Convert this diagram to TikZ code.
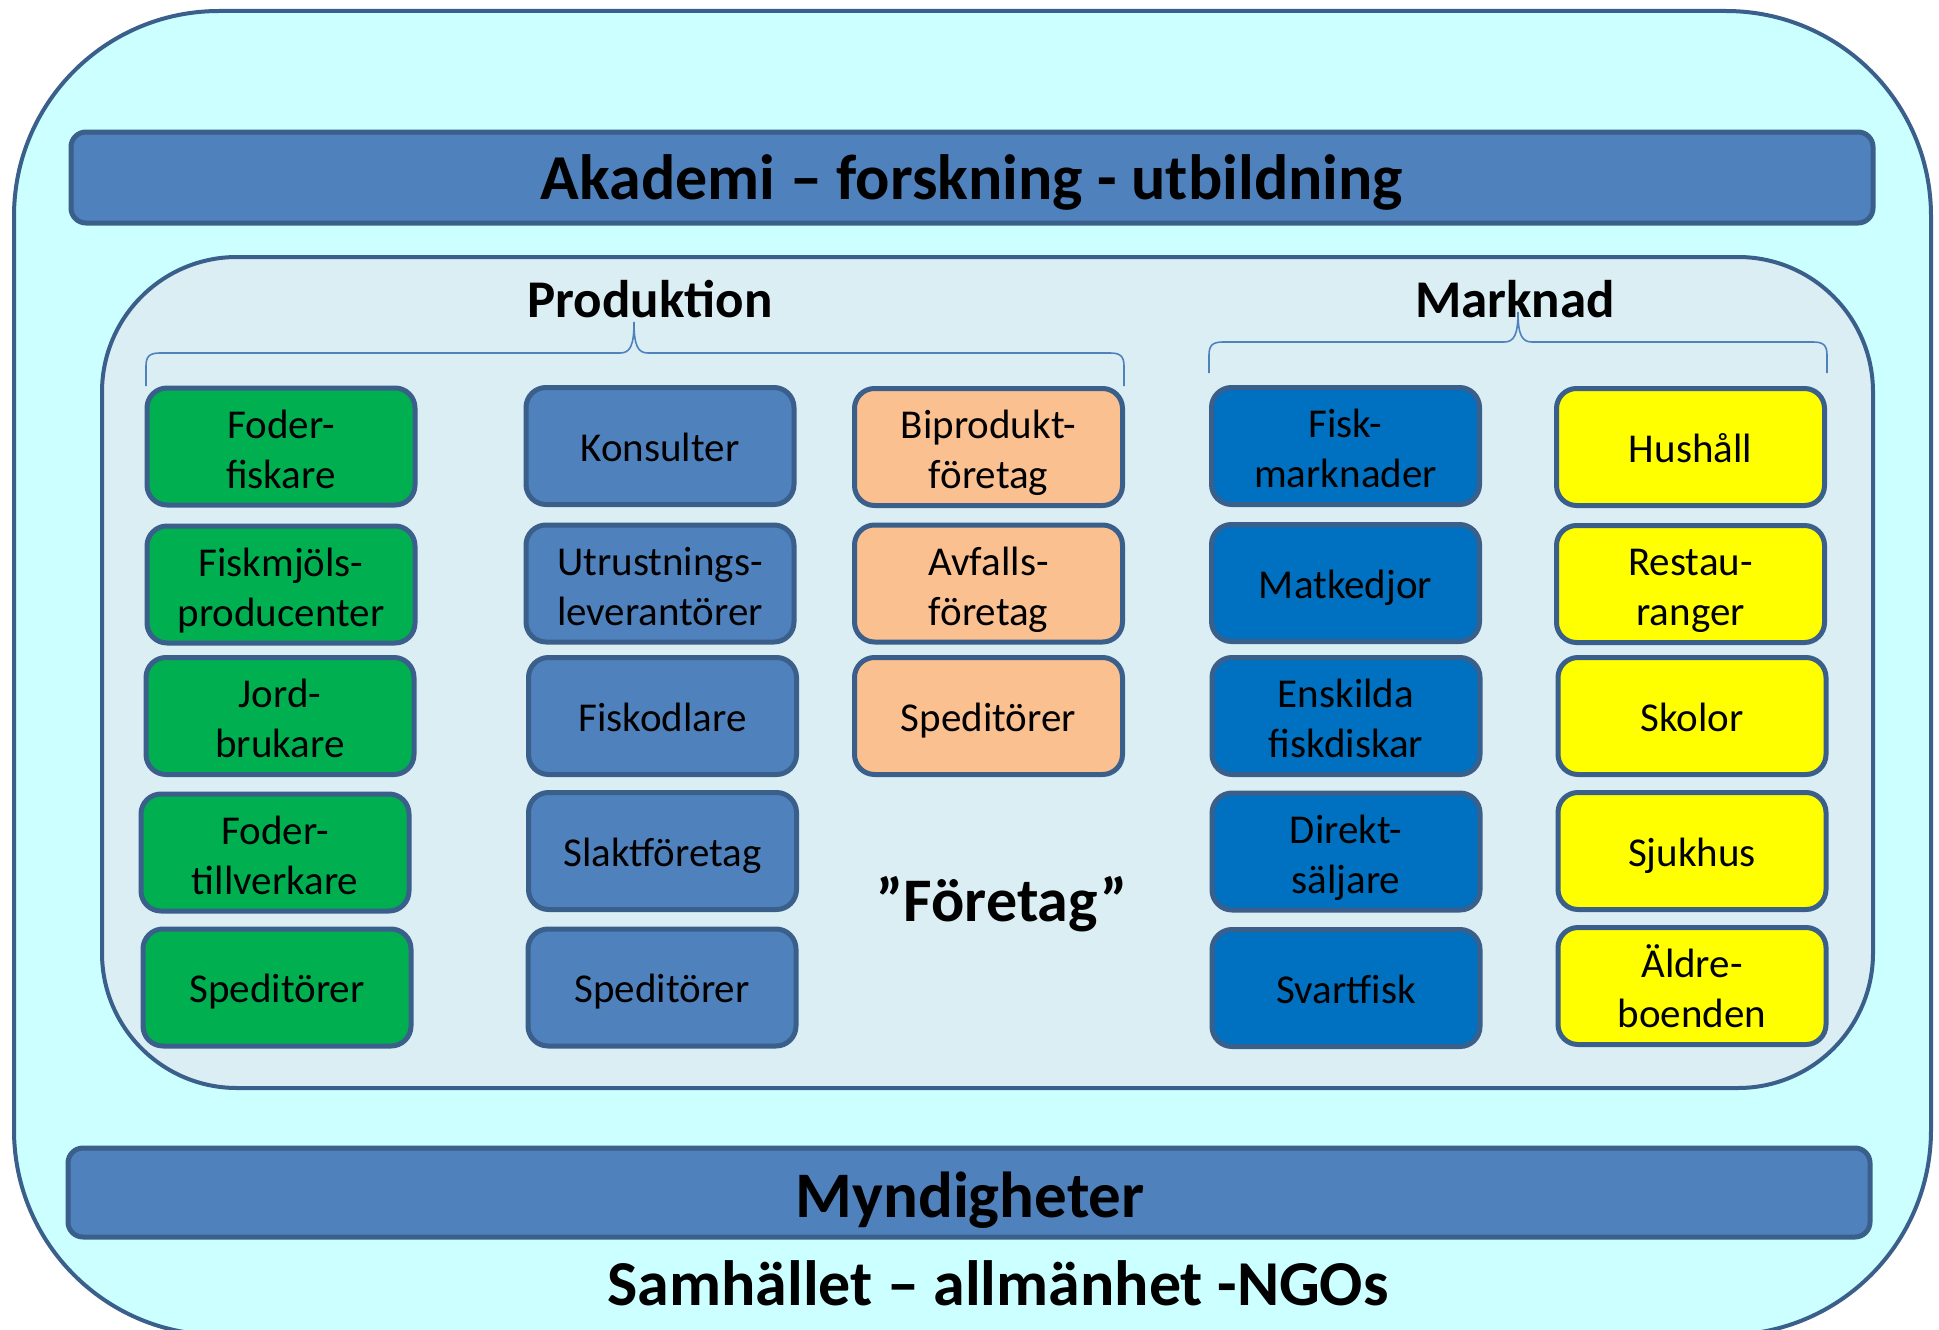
\documentclass[tikz,border=0pt]{standalone}
\usepackage{fontspec}
\setmainfont{Carlito}
\definecolor{outerfill}{HTML}{CCFFFF}
\definecolor{innerfill}{HTML}{DBEEF4}
\definecolor{edge}{HTML}{3A5F8B}
\definecolor{barfill}{HTML}{4F81BD}
\definecolor{cgreen}{HTML}{00B050}
\definecolor{cblue}{HTML}{4F81BD}
\definecolor{corange}{HTML}{FAC090}
\definecolor{cdblue}{HTML}{0070C0}
\definecolor{cyellow}{HTML}{FFFF00}
\definecolor{bracecol}{HTML}{4F81BD}
\newcommand\boxstrut{\rule[-12pt]{0pt}{54pt}}
\newcommand\twostrut{\rule[-12pt]{0pt}{57.5pt}}
\tikzset{
  pbox/.style={draw=edge, line width=5pt, rounded corners=20pt, minimum width=268pt, minimum height=117pt, inner sep=0pt, align=center, font=\fontsize{41}{50}\selectfont, execute at begin node=\boxstrut, execute at end node=\boxstrut},
  bar/.style={draw=edge, line width=5pt, fill=barfill, rounded corners=15pt},
  title/.style={font=\fontsize{64}{72}\selectfont\bfseries, inner sep=0pt, anchor=base},
  head/.style={font=\fontsize{53}{60}\selectfont\bfseries, inner sep=0pt, anchor=base},
  bracestyle/.style={draw=bracecol, line width=1.6pt}
}
\begin{document}
\begin{tikzpicture}[x=1pt, y=-1pt]
\useasboundingbox (0,0) rectangle (1939,1330);
\fill[white] (0,0) rectangle (1939,1330);
% outer box
\draw[draw=edge, line width=4pt, fill=outerfill, rounded corners=205pt] (14,11) rectangle (1931,1335);
% top bar
\draw[bar] (71,132) rectangle (1873,223);
\node[title] (akademi) at (972,199) {Akademi – forskning - utbildning};
% inner box
\draw[draw=edge, line width=4pt, fill=innerfill, rounded corners=135pt] (102,257) rectangle (1873,1088);
% bottom bar
\draw[bar] (68,1148) rectangle (1870,1237);
\node[title, font=\fontsize{65}{72}\selectfont\bfseries] (myndigheter) at (970,1217) {Myndigheter};
\node[title] (samhallet) at (998,1305) {Samhället – allmänhet -NGOs};
% headings
\node[head] (produktion) at (650,317) {Produktion};
\node[head] (marknad) at (1515,317) {Marknad};
% braces
\draw[bracestyle] (146,386) -- (146,366) .. controls (146,356) and (150,353) .. (160,353) -- (620,353) .. controls (630,353) and (634,346) .. (634,322) .. controls (634,346) and (638,353) .. (648,353) -- (1110,353) .. controls (1120,353) and (1124,356) .. (1124,366) -- (1124,386);
\draw[bracestyle] (1209,373) -- (1209,355) .. controls (1209,345) and (1213,342) .. (1223,342) -- (1504,342) .. controls (1514,342) and (1518,335) .. (1518,312) .. controls (1518,335) and (1522,342) .. (1532,342) -- (1813,342) .. controls (1823,342) and (1827,345) .. (1827,355) -- (1827,373);
% column 1 green
\node[pbox, fill=cgreen] (g1) at (281,446.5) {\twostrut Foder-\\fiskare};
\node[pbox, fill=cgreen] (g2) at (281,584.5) {\twostrut Fiskmjöls-\\producenter};
\node[pbox, fill=cgreen] (g3) at (280,716) {\twostrut Jord-\\brukare};
\node[pbox, fill=cgreen] (g4) at (275,852.5) {\twostrut Foder-\\tillverkare};
\node[pbox, fill=cgreen] (g5) at (277,987.5) {Speditörer};
% column 2 blue
\node[pbox, fill=cblue] (b1) at (660,446) {Konsulter};
\node[pbox, fill=cblue] (b2) at (660,583.5) {\twostrut Utrustnings-\\leverantörer};
\node[pbox, fill=cblue] (b3) at (662.5,716) {Fiskodlare};
\node[pbox, fill=cblue] (b4) at (662.5,851) {Slaktföretag};
\node[pbox, fill=cblue] (b5) at (662,987.5) {Speditörer};
% column 3 orange
\node[pbox, fill=corange] (o1) at (988.5,447) {\twostrut Biprodukt-\\företag};
\node[pbox, fill=corange] (o2) at (988.5,583.5) {\twostrut Avfalls-\\företag};
\node[pbox, fill=corange] (o3) at (988.5,716) {Speditörer};
\node[font=\fontsize{62}{70}\selectfont\bfseries, inner sep=0pt, anchor=base] (foretag) at (1002,921) {”Företag”};
% column 4 dark blue
\node[pbox, fill=cdblue] (d1) at (1345.5,446) {\twostrut Fisk-\\marknader};
\node[pbox, fill=cdblue] (d2) at (1345.5,583) {Matkedjor};
\node[pbox, fill=cdblue] (d3) at (1346,716) {\twostrut Enskilda\\fiskdiskar};
\node[pbox, fill=cdblue] (d4) at (1346,851.5) {\twostrut Direkt-\\säljare};
\node[pbox, fill=cdblue] (d5) at (1346,988) {Svartfisk};
% column 5 yellow
\node[pbox, fill=cyellow] (y1) at (1690.5,447) {Hushåll};
\node[pbox, fill=cyellow] (y2) at (1690.5,584) {\twostrut Restau-\\ranger};
\node[pbox, fill=cyellow] (y3) at (1692,716) {Skolor};
\node[pbox, fill=cyellow] (y4) at (1692,851) {Sjukhus};
\node[pbox, fill=cyellow] (y5) at (1692,986) {\twostrut Äldre-\\boenden};
\end{tikzpicture}
\end{document}
